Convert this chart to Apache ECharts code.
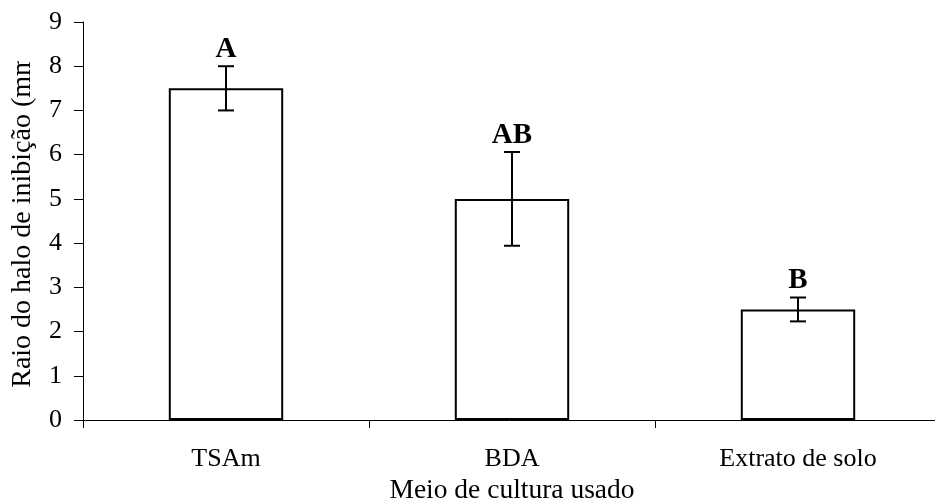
<!DOCTYPE html>
<html>
<head>
<meta charset="utf-8">
<script src="https://cdn.jsdelivr.net/npm/echarts@6/dist/echarts.min.js"></script>
<style>html,body{margin:0;padding:0;background:#fff;}#chart{width:935px;height:504px;}</style>
</head>
<body>
<div id="chart"></div>
<script>
var categories = ['TSAm', 'BDA', 'Extrato de solo'];
var means = [7.5, 5.0, 2.5];
var errors = [0.5, 1.06, 0.27];
var letters = ['A', 'AB', 'B'];
var yTicks = { min: 0, max: 9, interval: 1 };

var FONT = '"Liberation Serif", "Times New Roman", serif';
var chart = echarts.init(document.getElementById('chart'));

var errData = categories.map(function (c, i) { return [i, means[i], errors[i], letters[i]]; });

chart.setOption({
  animation: false,
  backgroundColor: '#fff',
  grid: { left: 83, width: 858, top: 22, height: 398, containLabel: false, outerBoundsMode: 'none' },
  xAxis: {
    type: 'category',
    data: categories,
    name: 'Meio de cultura usado',
    nameLocation: 'middle',
    nameGap: 54,
    nameTextStyle: { fontFamily: FONT, fontSize: 27.5, color: '#000' },
    axisLine: { lineStyle: { color: '#000', width: 1 } },
    axisTick: { show: true, length: 8, alignWithLabel: false, lineStyle: { color: '#000' } },
    axisLabel: { fontFamily: FONT, fontSize: 26, color: '#000', margin: 26, interval: 0 },
    splitLine: { show: false }
  },
  yAxis: {
    type: 'value',
    min: yTicks.min,
    max: yTicks.max,
    interval: yTicks.interval,
    name: 'Raio do halo de inibição (mm',
    nameLocation: 'middle',
    nameGap: 46,
    nameTextStyle: { fontFamily: FONT, fontSize: 28, color: '#000' },
    axisLine: { show: true, lineStyle: { color: '#000', width: 1 } },
    axisTick: { show: true, length: 9, lineStyle: { color: '#000' } },
    axisLabel: { fontFamily: FONT, fontSize: 26, color: '#000', margin: 21 },
    splitLine: { show: false }
  },
  graphic: [
    { type: 'rect', left: 0, top: 0, shape: { width: 42, height: 61 }, style: { fill: '#fff' }, z: 100 }
  ],
  series: [
    {
      type: 'bar',
      data: means,
      barWidth: '40%',
      itemStyle: { color: '#fff', borderColor: '#000', borderWidth: 2 }
    },
    {
      type: 'custom',
      data: errData,
      z: 10,
      renderItem: function (params, api) {
        var x = api.value(0);
        var m = api.value(1);
        var e = api.value(2);
        var top = api.coord([x, m + e]);
        var bot = api.coord([x, m - e]);
        var cap = 8;
        var st = { stroke: '#000', lineWidth: 2 };
        return {
          type: 'group',
          children: [
            { type: 'line', shape: { x1: top[0], y1: top[1], x2: bot[0], y2: bot[1] }, style: st },
            { type: 'line', shape: { x1: top[0] - cap, y1: top[1], x2: top[0] + cap, y2: top[1] }, style: st },
            { type: 'line', shape: { x1: bot[0] - cap, y1: bot[1], x2: bot[0] + cap, y2: bot[1] }, style: st },
            { type: 'text', x: top[0], y: top[1] - 2,
              style: { text: api.value(3), fontFamily: FONT, fontSize: 29, fontWeight: 'bold', fill: '#000', align: 'center', verticalAlign: 'bottom' } }
          ]
        };
      }
    }
  ]
});
</script>
</body>
</html>
